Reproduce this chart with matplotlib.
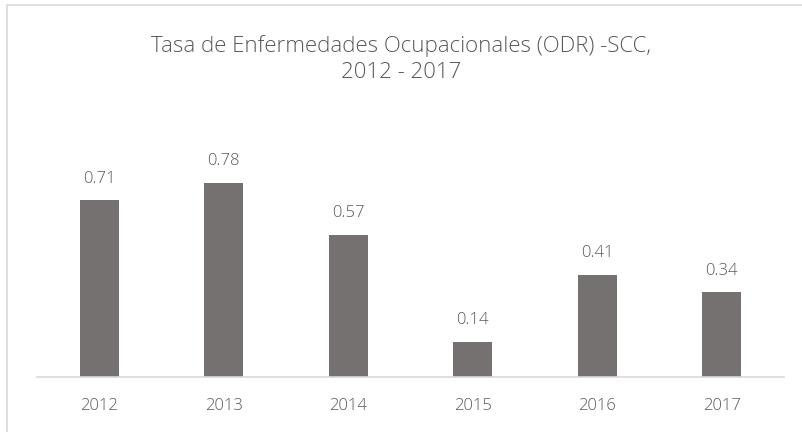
import matplotlib.pyplot as plt
from matplotlib.patches import Rectangle

years = ['2012', '2013', '2014', '2015', '2016', '2017']
rates = [0.71, 0.78, 0.57, 0.14, 0.41, 0.34]
labels = ['0.71', '0.78', '0.57', '0.14', '0.41', '0.34']

plt.rcParams['font.family'] = ['Open Sans', 'DejaVu Sans']

fig = plt.figure(figsize=(8.03, 4.32), dpi=100)
fig.patches.append(Rectangle((7 / 803, -0.1), 1.2, (432 - 5) / 432 + 0.1,
                             transform=fig.transFigure, fill=False,
                             edgecolor='#d9d9d9', linewidth=1.2))

ax = fig.add_axes([37 / 803, 55 / 432, 747 / 803, 224 / 432])
x = range(len(years))
ax.bar(x, rates, width=0.31, color='#767171')
for i, v in enumerate(rates):
    ax.text(i, v + 0.055, labels[i], ha='center', va='bottom',
            fontsize=12, color='#595959', fontweight='light')

ax.set_xlim(-0.5, len(years) - 0.5)
ax.set_ylim(0, 0.9)
ax.set_xticks(list(x))
ax.set_xticklabels(years, fontsize=12, color='#595959', fontweight='light')
ax.tick_params(axis='x', length=0, pad=15)
ax.set_yticks([])
for s in ['top', 'right', 'left']:
    ax.spines[s].set_visible(False)
ax.spines['bottom'].set_color('#d9d9d9')
ax.spines['bottom'].set_linewidth(1.2)

fig.text(401 / 803, 1 - 59 / 432, 'Tasa de Enfermedades Ocupacionales (ODR) -SCC,\n2012 - 2017',
         ha='center', va='center', fontsize=16, color='#595959',
         fontweight='light', linespacing=1.35)

fig.savefig('out.png', dpi=100)
